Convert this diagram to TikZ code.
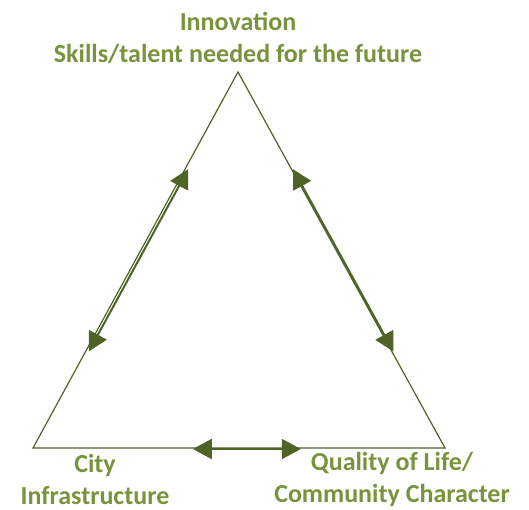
\documentclass[tikz,border=0pt]{standalone}
\usepackage{fontspec}
\setmainfont{Carlito}
\usetikzlibrary{positioning}
\usetikzlibrary{arrows.meta}
\usetikzlibrary{calc}

\definecolor{leaf}{HTML}{77933C}
\definecolor{bark}{HTML}{4F6228}

\tikzset{
  side/.style={draw=bark, line width=1.2pt},
  link/.style={draw=bark, line width=2pt, {Triangle[length=19pt,width=20pt]}-{Triangle[length=19pt,width=20pt]}},
  lbl/.style={text=leaf, font=\bfseries\fontsize{26}{32}\selectfont, align=center}
}

\begin{document}
\begin{tikzpicture}[x=1pt, y=-1pt]
 \useasboundingbox (0,0) rectangle (529,510);

 % corners
 \coordinate (top) at (238,72);
 \coordinate (left) at (33,448);
 \coordinate (right) at (445,448);

 \draw[side] (left) -- (top) -- (right) -- cycle;

 % labels
 \node[lbl] (inno) at (238,38) {Innovation\\Skills/talent needed for the future};
 \node[lbl] (city) at (95,479.5) {City\\Infrastructure};
 \node[lbl] (qual) at (392,479.5) {Quality of Life/\\Community Character};

 % lines
 \coordinate (l1) at ($(left)!0.26!(top)+(2.5,1.2)$);
 \coordinate (l2) at ($(left)!0.745!(top)+(2.5,1.2)$);
 \coordinate (r1) at ($(right)!0.74!(top)+(1.2,-0.6)$);
 \coordinate (r2) at ($(right)!0.255!(top)+(1.2,-0.6)$);
 \coordinate (b1) at ($(left)!0.388!(right)+(0,1)$);
 \coordinate (b2) at ($(left)!0.65!(right)+(0,1)$);

 \foreach \source/\dest in {l1/l2, r1/r2, b1/b2}
   \path[link] (\source) -- (\dest);

\end{tikzpicture}
\end{document}
